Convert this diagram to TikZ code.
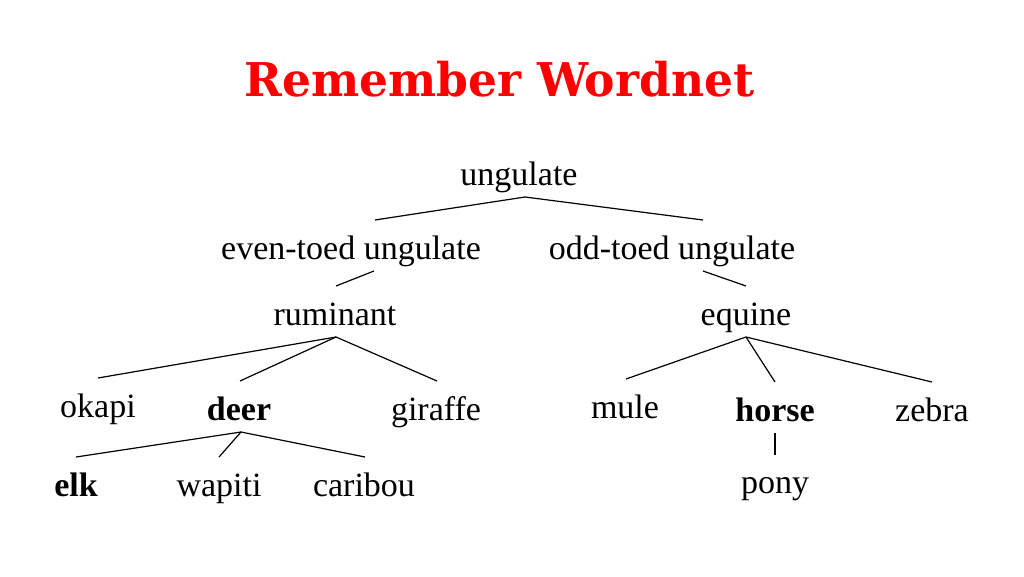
\documentclass[tikz,border=0pt]{standalone}
\usepackage{fontspec}
\setmainfont{Liberation Serif}
\newfontfamily\titlefont[FakeStretch=0.98]{DejaVu Serif}
\begin{document}
\begin{tikzpicture}[x=1pt,y=-1pt,
	word/.style={anchor=base,inner sep=0pt,font=\fontsize{34}{40}\selectfont},
	bword/.style={word,font=\fontsize{34}{40}\selectfont\bfseries},
	link/.style={draw=black,line width=1.2pt}]
			\useasboundingbox (0,0) rectangle (1024,576);
			
			\node[anchor=base,inner sep=0pt,text=red,font=\titlefont\fontsize{46.5}{54}\selectfont\bfseries] (title) at (499.5,96.5) {Remember Wordnet};
			
			\node[word] (ungulate) at (519,185) {ungulate};
			\node[word] (eventoed) at (351,259) {even-toed ungulate};
			\node[word] (oddtoed) at (672,259) {odd-toed ungulate};
			\node[word] (ruminant) at (335,325) {ruminant};
			\node[word] (equine) at (746,325) {equine};
			
			\node[word] (okapi) at (98,417) {okapi};
			\node[bword] (deer) at (239,420) {deer};
			\node[word] (giraffe) at (436,420) {giraffe};
			\node[word] (mule) at (625,418) {mule};
			\node[bword] (horse) at (775,421) {horse};
			\node[word] (zebra) at (932,421) {zebra};
			
			\node[bword] (elk) at (76,496) {elk};
			\node[word] (wapiti) at (219,496) {wapiti};
			\node[word] (caribou) at (364,496) {caribou};
			\node[word] (pony) at (775,493) {pony};
			
			%\node (X) at (519,140) {$ root $};
			
			\draw[link] ([shift={(6,12)}]ungulate.base) to ([shift={(24,-39)}]eventoed.base);
			\draw[link] ([shift={(6,12)}]ungulate.base) to ([shift={(31,-39)}]oddtoed.base);
			\draw[link] ([shift={(23,12)}]eventoed.base) to ([shift={(1,-39)}]ruminant.base);
			\draw[link] ([shift={(31,12)}]oddtoed.base) to ([shift={(0,-39)}]equine.base);
			
			\draw[link] ([shift={(1,12)}]ruminant.base) to ([shift={(0,-39)}]okapi.base);
			\draw[link] ([shift={(1,12)}]ruminant.base) to ([shift={(1,-39)}]deer.base);
			\draw[link] ([shift={(1,12)}]ruminant.base) to ([shift={(1,-39)}]giraffe.base);
			
			\draw[link] ([shift={(2,12)}]deer.base) to ([shift={(0,-39)}]elk.base);
			\draw[link] ([shift={(2,12)}]deer.base) to ([shift={(0,-39)}]wapiti.base);
			\draw[link] ([shift={(2,12)}]deer.base) to ([shift={(1,-39)}]caribou.base);
			
			\draw[link] ([shift={(0,12)}]equine.base) to ([shift={(1,-39)}]mule.base);
			\draw[link] ([shift={(0,12)}]equine.base) to ([shift={(0,-39)}]horse.base);
			\draw[link] ([shift={(0,12)}]equine.base) to ([shift={(0,-39)}]zebra.base);
			
			\draw[link] ([shift={(0,12)}]horse.base) to ([shift={(0,-38)}]pony.base);
			\end{tikzpicture}
\end{document}
